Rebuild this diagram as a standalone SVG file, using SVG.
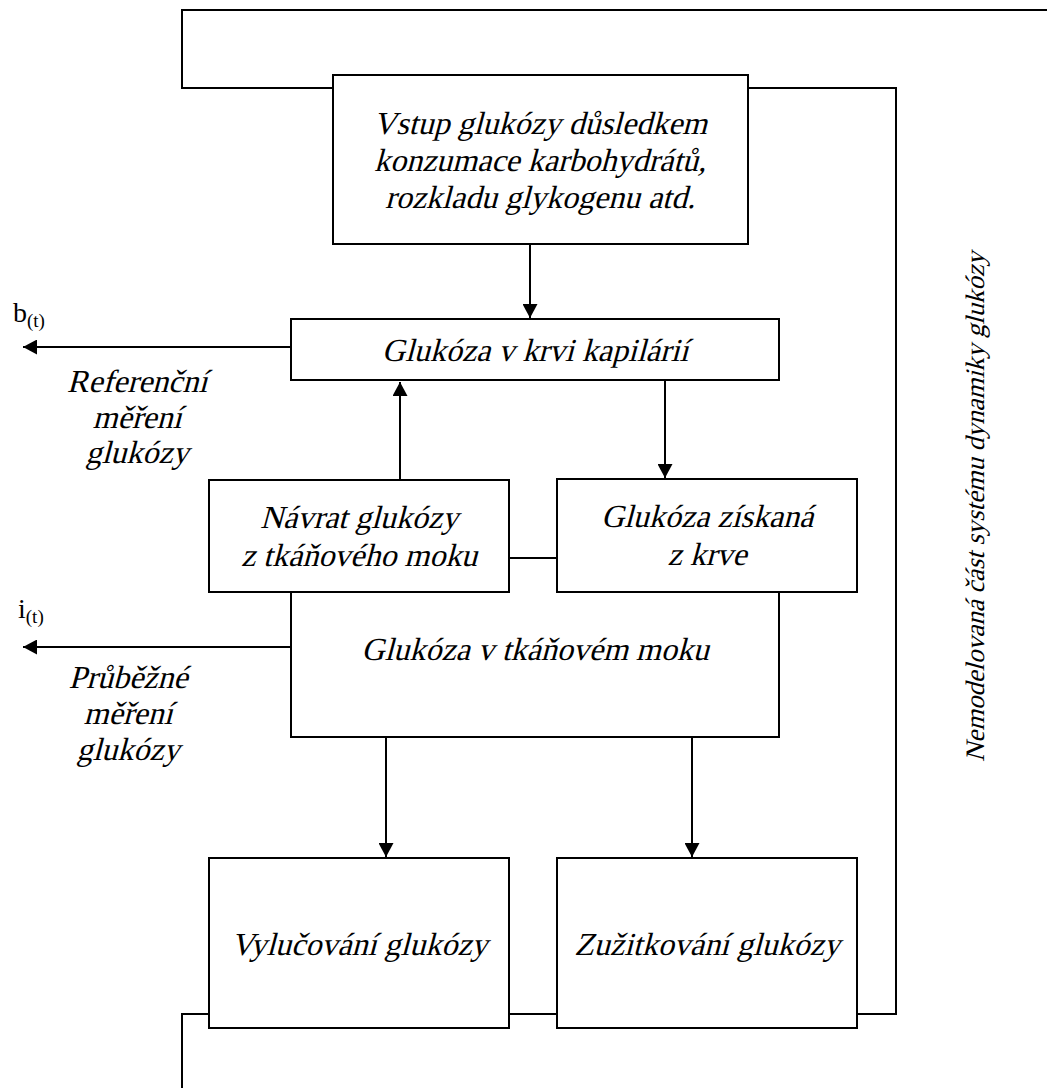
<svg xmlns="http://www.w3.org/2000/svg" width="1047" height="1088" viewBox="0 0 1047 1088">
<style>
  .box { fill: #ffffff; stroke: #000000; stroke-width: 2; }
  .ln { fill: none; stroke: #000000; stroke-width: 2; }
  .t { font-family: "Liberation Serif", "Times New Roman", serif; font-size: 32px; fill: #000000; text-anchor: middle; }
  .v { font-family: "Liberation Serif", "Times New Roman", serif; font-size: 26.7px; fill: #000000; text-anchor: middle; }
  .sym { font-family: "Liberation Serif", "Times New Roman", serif; font-size: 28px; fill: #000000; }
  .sub { font-size: 19px; }
</style>
<defs>
  <marker id="ah" markerWidth="15" markerHeight="15" refX="14" refY="7.5" orient="auto" markerUnits="userSpaceOnUse">
    <path d="M0,0 L14,7.5 L0,15 Z" fill="#000000"/>
  </marker>
</defs>
<rect x="0" y="0" width="1047" height="1088" fill="#ffffff"/>
<g id="connectors">
  <path class="ln" d="M1047,10 H182 V88 H333"/>
  <path class="ln" d="M748,88 H896 V1014 H857"/>
  <path class="ln" d="M557,1014 H509"/>
  <path class="ln" d="M209,1014 H182 V1088"/>
  <path class="ln" d="M509,558 H557"/>
  <path class="ln" d="M530,244 V318" marker-end="url(#ah)"/>
  <path class="ln" d="M291,347 H23" marker-end="url(#ah)"/>
  <path class="ln" d="M291,647 H23" marker-end="url(#ah)"/>
  <path class="ln" d="M400,480 V382" marker-end="url(#ah)"/>
  <path class="ln" d="M665,380 V478" marker-end="url(#ah)"/>
  <path class="ln" d="M386,737 V857" marker-end="url(#ah)"/>
  <path class="ln" d="M692,737 V857" marker-end="url(#ah)"/>
</g>
<g id="tissue">
  <path class="ln" d="M291,592 V737 H779 V592"/>
  <text class="t" transform="translate(535,660) skewX(-15)">Glukóza v tkáňovém moku</text>
</g>
<g id="input">
  <rect class="box" x="333" y="75" width="415" height="169"/>
  <text class="t" transform="translate(540,134) skewX(-15)">Vstup glukózy důsledkem</text>
  <text class="t" transform="translate(540,171) skewX(-15)">konzumace karbohydrátů,</text>
  <text class="t" transform="translate(540,208) skewX(-15)">rozkladu glykogenu atd.</text>
</g>
<g id="blood">
  <rect class="box" x="291" y="319" width="488" height="61"/>
  <text class="t" transform="translate(535,361) skewX(-15)">Glukóza v krvi kapilárií</text>
</g>
<g id="return">
  <rect class="box" x="209" y="480" width="300" height="112"/>
  <text class="t" transform="translate(359,528) skewX(-15)">Návrat glukózy</text>
  <text class="t" transform="translate(359,566) skewX(-15)">z tkáňového moku</text>
</g>
<g id="fromblood">
  <rect class="box" x="557" y="479" width="300" height="113"/>
  <text class="t" transform="translate(707,527) skewX(-15)">Glukóza získaná</text>
  <text class="t" transform="translate(707,565) skewX(-15)">z krve</text>
</g>
<g id="excretion">
  <rect class="box" x="209" y="858" width="300" height="170"/>
  <text class="t" transform="translate(359,955) skewX(-15)">Vylučování glukózy</text>
</g>
<g id="utilization">
  <rect class="box" x="557" y="858" width="300" height="170"/>
  <text class="t" transform="translate(707,955) skewX(-15)">Zužitkování glukózy</text>
</g>
<g id="ref-label">
  <text class="sym" x="13" y="322">b<tspan class="sub" dy="5">(t)</tspan></text>
  <text class="t" transform="translate(137,392) skewX(-15)">Referenční</text>
  <text class="t" transform="translate(137,428) skewX(-15)">měření</text>
  <text class="t" transform="translate(137,463) skewX(-15)">glukózy</text>
</g>
<g id="cont-label">
  <text class="sym" x="18" y="618">i<tspan class="sub" dy="5">(t)</tspan></text>
  <text class="t" transform="translate(128,688) skewX(-15)">Průběžné</text>
  <text class="t" transform="translate(128,724) skewX(-15)">měření</text>
  <text class="t" transform="translate(128,760) skewX(-15)">glukózy</text>
</g>
<g id="unmodeled">
  <text class="v" transform="translate(984,507) rotate(-90) skewX(-15)">Nemodelovaná část systému dynamiky glukózy</text>
</g>
</svg>
